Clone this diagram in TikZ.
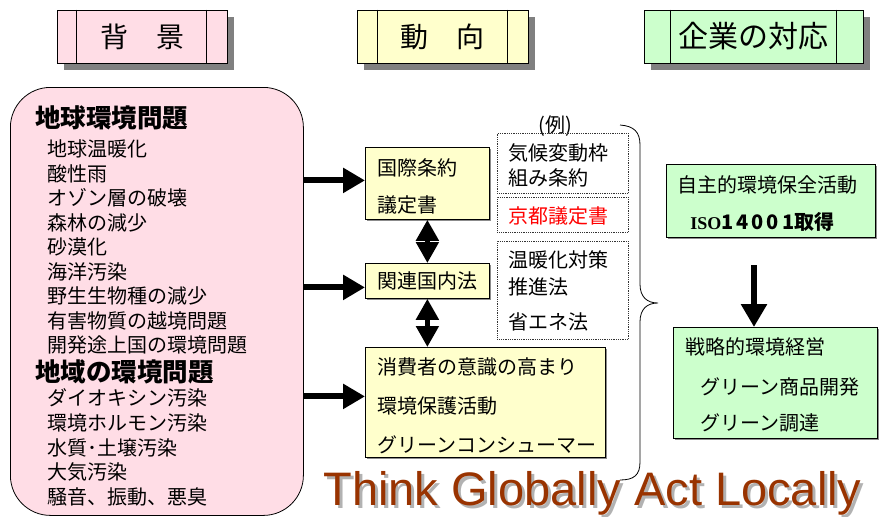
\documentclass[tikz,border=0pt]{standalone}
\usepackage{fontspec}
\setmainfont{Noto Sans CJK JP}
\newfontfamily\latinsans{Liberation Sans}
\newfontfamily\latinserif{Liberation Serif}
\usetikzlibrary{arrows.meta,shadows}
\definecolor{bgpink}{RGB}{255,221,230}
\definecolor{trendyellow}{RGB}{255,255,204}
\definecolor{corpgreen}{RGB}{204,255,204}
\definecolor{thinkbrown}{RGB}{153,51,0}
\begin{document}
\begin{tikzpicture}[x=1pt,y=-1pt,line width=0.8pt,
    hdr/.style={draw,fill=#1,minimum height=53pt,inner sep=0pt,
        drop shadow={shadow xshift=7pt,shadow yshift=-7pt,fill=black!50,opacity=1}},
    boxy/.style={draw,fill=#1,anchor=north west,inner sep=0pt,
        drop shadow={shadow xshift=2pt,shadow yshift=-2pt,fill=black!45,opacity=1}},
    exbox/.style={draw=black!80,densely dotted,anchor=north west,inner sep=0pt},
    txt/.style={anchor=west,inner sep=0pt,text height=17.6pt,text depth=2.4pt,
        font=\fontsize{20}{24}\selectfont},
    headtxt/.style={anchor=west,inner sep=0pt,text height=22.4pt,text depth=3.1pt,
        font=\fontsize{25.5}{28}\selectfont\bfseries},
    fatarr/.style={line width=6pt,-{Triangle[length=22pt,width=24pt]}},
    duoarr/.style={line width=5pt,{Triangle[length=21pt,width=22pt]}-{Triangle[length=21pt,width=22pt]}},
    downarr/.style={line width=6pt,-{Triangle[length=23pt,width=25pt]}}]
\useasboundingbox (0,0) rectangle (884,517);

% headers
\node[hdr=bgpink,minimum width=170pt,font=\fontsize{28}{30}\selectfont] (bghdr) at (142,36.5) {背　景};
\node[hdr=trendyellow,minimum width=171pt,font=\fontsize{28}{30}\selectfont] (trhdr) at (442.5,36.5) {動　向};
\node[hdr=corpgreen,minimum width=219pt,font=\fontsize{30}{32}\selectfont] (cphdr) at (753.5,36.5) {企業の対応};
\draw ([xshift=20pt]bghdr.north west) -- ([xshift=20pt]bghdr.south west);
\draw ([xshift=-21pt]bghdr.north east) -- ([xshift=-21pt]bghdr.south east);
\draw ([xshift=21pt]trhdr.north west) -- ([xshift=21pt]trhdr.south west);
\draw ([xshift=-21pt]trhdr.north east) -- ([xshift=-21pt]trhdr.south east);
\draw ([xshift=27pt]cphdr.north west) -- ([xshift=27pt]cphdr.south west);
\draw ([xshift=-27pt]cphdr.north east) -- ([xshift=-27pt]cphdr.south east);

% background
\node[draw,fill=bgpink,rounded corners=40pt,anchor=north west,
    minimum width=293pt,minimum height=428pt] (bgbox) at (10,87) {};
\node[headtxt] (globalhd) at (35,118) {地球環境問題};
\foreach \prob [count=\i] in {地球温暖化,酸性雨,オゾン層の破壊,森林の減少,砂漠化,
    海洋汚染,野生生物種の減少,有害物質の越境問題,開発途上国の環境問題}
{
    \node[txt] (glob\i) at (47,{149+24.5*(\i-1)}) {\prob};
}
\node[headtxt] (localhd) at (35,372) {地域の環境問題};
\foreach \prob [count=\i] in {ダイオキシン汚染,環境ホルモン汚染,水質･土壌汚染,大気汚染,騒音、振動、悪臭}
{
    \node[txt] (loc\i) at (47,{398+24.75*(\i-1)}) {\prob};
}

% trends
\node[boxy=trendyellow,minimum width=124pt,minimum height=72pt] (kokusai) at (365,147) {};
\node[txt] (kokusai1) at (377,168) {国際条約};
\node[txt] (kokusai2) at (377,205) {議定書};
\node[boxy=trendyellow,minimum width=124pt,minimum height=35pt] (kanren) at (365,263) {};
\node[txt] (kanren1) at (377,281) {関連国内法};
\node[boxy=trendyellow,minimum width=240pt,minimum height=110pt] (shohi) at (365,347) {};
\node[txt] (shohi1) at (377,367) {消費者の意識の高まり};
\node[txt] (shohi2) at (377,406) {環境保護活動};
\node[txt] (shohi3) at (377,445) {グリーンコンシューマー};

\node[inner sep=0pt,font=\fontsize{20}{24}\selectfont] (rei) at (555,126) {(例)};
\node[exbox,minimum width=131pt,minimum height=60pt] (ex1) at (497,133) {};
\node[txt] (ex1a) at (508,153) {気候変動枠};
\node[txt] (ex1b) at (508,178) {組み条約};
\node[exbox,minimum width=131pt,minimum height=35pt] (ex2) at (497,197) {};
\node[txt,text=red] (ex2a) at (508,216) {京都議定書};
\node[exbox,minimum width=131pt,minimum height=98pt] (ex3) at (497,241) {};
\node[txt] (ex3a) at (508,260) {温暖化対策};
\node[txt] (ex3b) at (508,287) {推進法};
\node[txt] (ex3c) at (508,322) {省エネ法};

\draw (620,125) .. controls (634,126) and (640,132) .. (640,145) -- (640,284)
    .. controls (640,297) and (647,303) .. (658,303)
    .. controls (647,303) and (640,309) .. (640,322) -- (640,462)
    .. controls (640,475) and (634,480) .. (620,480);

% arrows
\coordinate (a1) at ([yshift=3pt]kokusai.west);
\coordinate (a2) at ([yshift=-6.5pt]kanren.west);
\coordinate (a3) at ([yshift=6pt]shohi.west);
\draw[fatarr] (a1 -| bgbox.east) -- (a1);
\draw[fatarr] (a2 -| bgbox.east) -- (a2);
\draw[fatarr] (a3 -| bgbox.east) -- (a3);
\draw[duoarr] (kokusai.south) -- (kanren.north);
\draw[duoarr] (kanren.south) -- (kanren.south |- shohi.north);

% companies
\node[boxy=corpgreen,minimum width=209pt,minimum height=73pt] (cbox1) at (666,164) {};
\node[txt] (cbox1a) at (677,185) {自主的環境保全活動};
\node[txt,font=\fontsize{20}{24}\selectfont\bfseries] (cbox1b) at (690,222)
    {{\latinserif\fontsize{18}{20}\selectfont ISO}{\addfontfeatures{LetterSpace=15}14001}取得};
\node[boxy=corpgreen,minimum width=204pt,minimum height=111pt] (cbox2) at (673,327) {};
\node[txt] (cbox2a) at (685,347) {戦略的環境経営};
\node[txt] (cbox2b) at (700,387) {グリーン商品開発};
\node[txt] (cbox2c) at (700,423) {グリーン調達};
\coordinate (dtop) at (754,265);
\draw[downarr] (dtop) -- (dtop |- cbox2.north);

% motto
\node[anchor=base west,inner sep=0pt,font=\latinsans\fontsize{47}{50}\selectfont,text=black!30]
    (thinkshade) at (326,508) {Think Globally Act Locally};
\node[anchor=base west,inner sep=0pt,font=\latinsans\fontsize{47}{50}\selectfont,text=thinkbrown]
    (think) at (323,505) {Think Globally Act Locally};
\end{tikzpicture}
\end{document}
